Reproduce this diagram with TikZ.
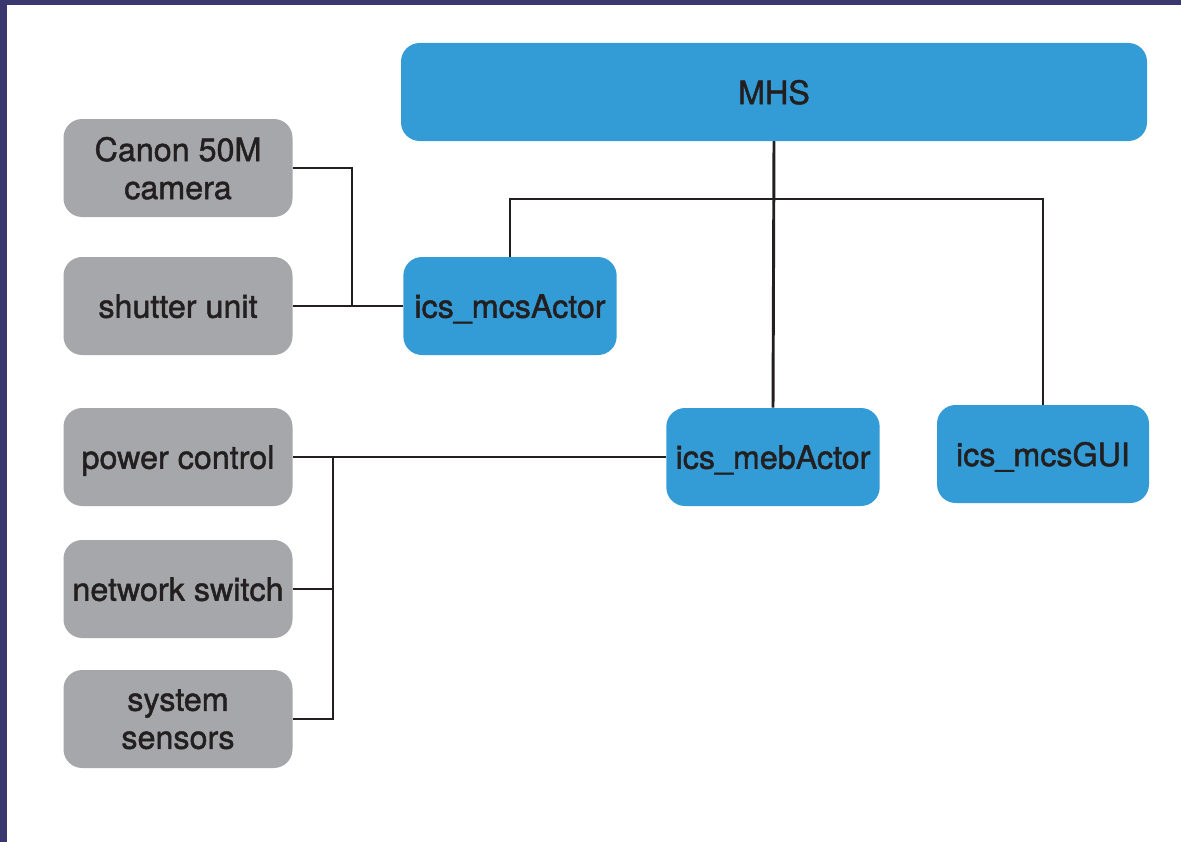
\documentclass[tikz,border=0pt]{standalone}
\usepackage{fontspec}
\setmainfont{TeX Gyre Heros}
\newfontfamily\boxfont{TeX Gyre Heros}[FakeBold=1.4]
\usepackage{tikz}
\usetikzlibrary{positioning}

\definecolor{frame}{HTML}{3B3870}
\definecolor{actorblue}{HTML}{339CD6}
\definecolor{unitgray}{HTML}{A6A7AA}
\definecolor{textdark}{HTML}{231F20}

\begin{document}
\begin{tikzpicture}[x=0.75pt,y=-0.75pt]
  \tikzset{box/.style = {rounded corners=14pt, minimum height=73.5pt, align=center,
             text=textdark, inner sep=0pt, text depth=0pt,
             font=\boxfont\fontsize{24.2}{28.5}\selectfont},
           actor/.style = {box, fill=actorblue, minimum width=160pt},
           unit/.style = {box, fill=unitgray, minimum width=171.75pt},
           wire/.style = {draw=textdark, line width=2.2pt}}
  % background and frame
  \fill[frame] (0,0) rectangle (1181,842);
  \fill[white] (7,5) rectangle (1181,842);
  \useasboundingbox (0,0) rectangle (1181,842);

  % nodes
  \node[actor, minimum width=559.5pt] (mhs) at (774,92) {MHS};
  \node[unit] (camera) at (178,168) {Canon 50M\\camera};
  \node[unit] (shutter) at (178,306) {shutter unit};
  \node[actor] (mcsactor) at (510,306) {ics\_mcsActor};
  \node[unit] (power) at (178,457) {power control};
  \node[unit] (switch) at (178,589) {network switch};
  \node[unit] (sensors) at (178,719) {system\\sensors};
  \node[actor] (mebactor) at (773,457) {ics\_mebActor};
  \node[actor, minimum width=159pt] (gui) at (1043,454) {ics\_mcsGUI};

  % connectors
  \coordinate (bus) at (774,199);
  \draw[wire] (mhs.south) -- (bus);
  \draw[wire] (mcsactor.north) |- (bus) -| (gui.north);
  \draw[wire] (mhs.south) -- (mebactor.north);

  \coordinate (camjoin) at (352,306);
  \draw[wire] (camera.east) -| (camjoin);
  \draw[wire] (shutter.east) -- (mcsactor.west);

  \coordinate (mebjoin) at (333,457);
  \draw[wire] (power.east) -- (mebactor.west);
  \draw[wire] (sensors.east) -| (mebjoin);
  \draw[wire] (switch.east) -- (switch.east -| mebjoin);
\end{tikzpicture}
\end{document}
